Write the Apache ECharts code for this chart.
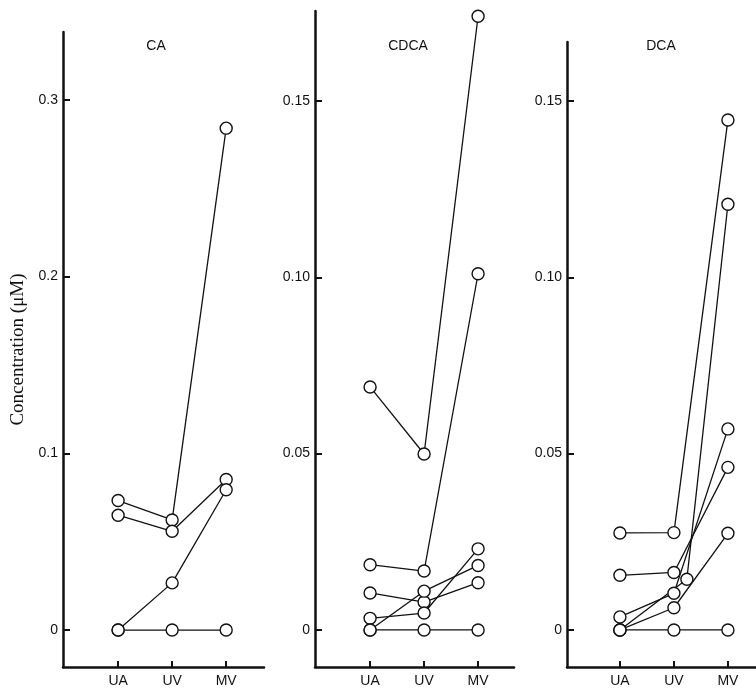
<!DOCTYPE html>
<html>
<head>
<meta charset="utf-8">
<script src="https://cdn.jsdelivr.net/npm/echarts@6/dist/echarts.min.js"></script>
<style>
  html, body { margin: 0; padding: 0; background: #fff; }
  #main { width: 756px; height: 688px; }
</style>
</head>
<body>
<div id="main"></div>
<script>
// sampling sites along the x axis
var sites = ['UA', 'UV', 'MV'];
var siteX = [1, 2, 3];

// CA (uM), one row per subject: UA, UV, MV
var caRows = [
  [0.0733, 0.0623, 0.284],
  [0.065, 0.0559, 0.0852],
  [0, 0.0267, 0.0794],
  [0, 0, 0]
];

// CDCA
var cdcaRows = [
  [0.0689, 0.0499, 0.174],
  [0.0185, 0.0167, 0.101],
  [0.0105, 0.0079, 0.0134],
  [0.0033, 0.0048, 0.023],
  [0, 0.011, 0.0183],
  [0, 0, 0]
];

// DCA
var dcaRows = [
  [0.0275, 0.0276, 0.1446],
  [0.0155, 0.0163, 0.0461],
  [0.0037, 0.0104, 0.057],
  [0, 0.0063, 0.0274],
  [0, 0.0144, 0.1207],
  [0, 0, 0]
];
// one DCA UV point is drawn a little right of the UV position
var dcaUVShift = [0, 0, 0, 0, 0.24, 0];

var panelTitles = ['CA', 'CDCA', 'DCA'];
var caTicks = [0, 0.1, 0.2, 0.3];
var cdcaTicks = [0, 0.05, 0.10, 0.15];
var dcaTicks = [0, 0.05, 0.10, 0.15];

var myChart = echarts.init(document.getElementById('main'));

var fontSans = 'Liberation Sans, Arial, sans-serif';

function xAxisFor(idx, min, max) {
  return {
    type: 'value', gridIndex: idx, min: min, max: max,
    axisLine: { show: true, onZero: false, lineStyle: { color: '#111', width: 2.5 } },
    axisTick: { show: true, inside: true, length: 6, customValues: siteX, lineStyle: { color: '#111', width: 2 } },
    axisLabel: {
      show: true, customValues: siteX, margin: 7,
      color: '#111', fontSize: 14, fontFamily: fontSans,
      formatter: function (v) { return sites[Math.round(v) - 1] || ''; }
    },
    splitLine: { show: false }
  };
}

function yAxisFor(idx, min, max, ticks, fmt) {
  return {
    type: 'value', gridIndex: idx, min: min, max: max,
    axisLine: { show: true, onZero: false, lineStyle: { color: '#111', width: 2.5 } },
    axisTick: { show: true, inside: true, length: 7, customValues: ticks, lineStyle: { color: '#111', width: 2 } },
    axisLabel: {
      show: true, customValues: ticks, margin: 5,
      color: '#111', fontSize: 14, fontFamily: fontSans,
      formatter: fmt
    },
    splitLine: { show: false }
  };
}

function fmtCA(v) { return v === 0 ? '0' : v.toFixed(1); }
function fmtSmall(v) { return v === 0 ? '0' : v.toFixed(2); }

var series = [];
function addRows(rows, idx, shift) {
  rows.forEach(function (r, i) {
    series.push({
      type: 'line', xAxisIndex: idx, yAxisIndex: idx,
      symbol: 'circle', symbolSize: 12, showSymbol: true,
      lineStyle: { color: '#111', width: 1.3 },
      itemStyle: { color: '#fff', borderColor: '#111', borderWidth: 1.4 },
      emphasis: { disabled: true },
      z: 3,
      data: r.map(function (v, j) {
        var x = siteX[j] + (shift && j === 1 ? shift[i] : 0);
        return [x, v];
      })
    });
  });
}
addRows(caRows, 0);
addRows(cdcaRows, 1);
addRows(dcaRows, 2, dcaUVShift);

var yAx0 = yAxisFor(0, -0.0209, 0.3384, caTicks, fmtCA);
yAx0.name = 'Concentration (\u03bcM)';
yAx0.nameLocation = 'middle';
yAx0.nameGap = 35;
yAx0.nameTextStyle = { color: '#111', fontSize: 19, fontFamily: 'Liberation Serif, Times New Roman, serif' };

var titleStyle = { fontSize: 14, fontWeight: 'normal', color: '#111', fontFamily: fontSans };

option = {
  backgroundColor: '#fff',
  animation: false,
  title: [
    { text: panelTitles[0], left: 151, top: 34, textAlign: 'center', textStyle: titleStyle },
    { text: panelTitles[1], left: 403, top: 34, textAlign: 'center', textStyle: titleStyle },
    { text: panelTitles[2], left: 656, top: 34, textAlign: 'center', textStyle: titleStyle }
  ],
  grid: [
    { left: 63, top: 32, width: 201, height: 635 },
    { left: 315, top: 11, width: 199, height: 656 },
    { left: 567, top: 42, width: 189, height: 625 }
  ],
  xAxis: [
    xAxisFor(0, -0.02, 3.7),
    xAxisFor(1, -0.02, 3.665),
    xAxisFor(2, 0.02, 3.52)
  ],
  yAxis: [
    yAx0,
    yAxisFor(1, -0.0105, 0.1755, cdcaTicks, fmtSmall),
    yAxisFor(2, -0.0105, 0.1667, dcaTicks, fmtSmall)
  ],
  series: series
};
myChart.setOption(option);
</script>
</body>
</html>
